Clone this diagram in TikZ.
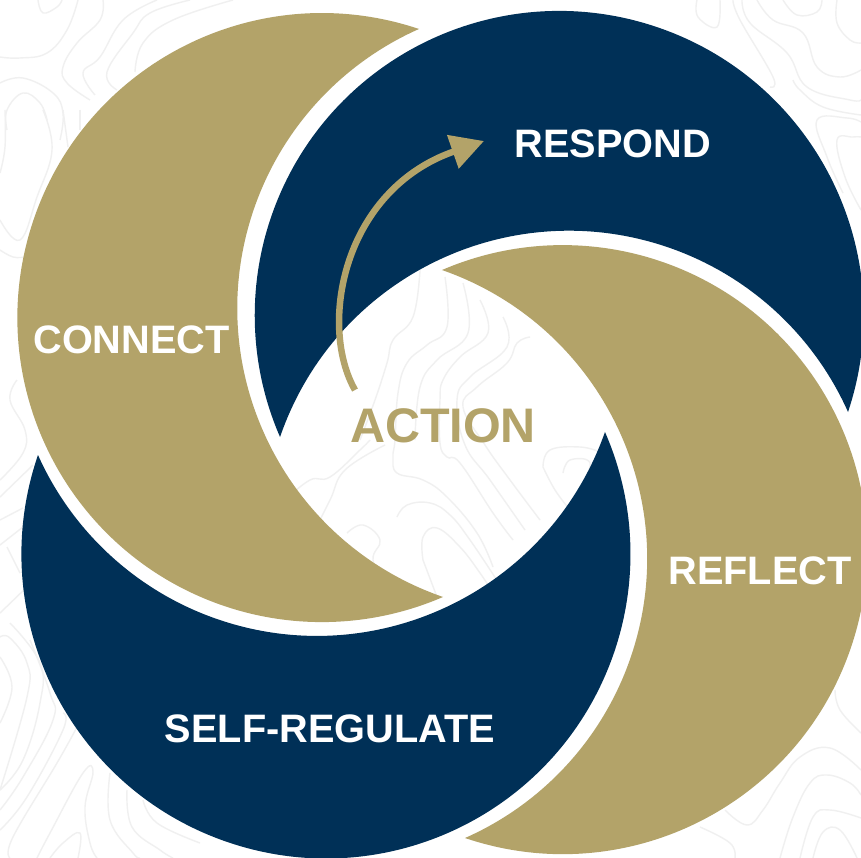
\documentclass[tikz,border=0pt]{standalone}
\usepackage{fontspec}
\setmainfont{Liberation Sans}
\usetikzlibrary{arrows.meta}
\definecolor{tgold}{HTML}{B3A369}
\definecolor{tnavy}{HTML}{003057}
\definecolor{tcontour}{HTML}{F0F0F0}
\tikzset{
  label on/.style={inner sep=0pt,font=\bfseries\fontsize{39.7}{42}\selectfont,text=white},
  contour/.style={draw=tcontour,line width=1.4pt},
}
\newcommand\crescent[7]{%
  \pgfmathsetmacro\csDx{#4-#2}%
  \pgfmathsetmacro\csDy{#5-#3}%
  \pgfmathsetmacro\csC{veclen(\csDx,\csDy)}%
  \pgfmathsetmacro\csNx{-\csDy/\csC}%
  \pgfmathsetmacro\csNy{\csDx/\csC}%
  \pgfmathsetmacro\csAo{asin(\csC/2/#6)}%
  \pgfmathsetmacro\csAi{asin(\csC/2/#7)}%
  \pgfmathsetmacro\csDo{#6*cos(\csAo)}%
  \pgfmathsetmacro\csDi{#7*cos(\csAi)}%
  \pgfmathsetmacro\csCox{(#2+#4)/2+\csNx*\csDo}%
  \pgfmathsetmacro\csCoy{(#3+#5)/2+\csNy*\csDo}%
  \pgfmathsetmacro\csCix{(#2+#4)/2-\csNx*\csDi}%
  \pgfmathsetmacro\csCiy{(#3+#5)/2-\csNy*\csDi}%
  \pgfmathsetmacro\csSo{atan2(#3-\csCoy,#2-\csCox)}%
  \pgfmathsetmacro\csSi{atan2(#5-\csCiy,#4-\csCix)}%
  \pgfmathsetmacro\csWo{-(360-2*\csAo)}%
  \pgfmathsetmacro\csWi{2*\csAi}%
  \fill[#1] (#2,#3) arc[start angle=\csSo,delta angle=\csWo,radius=#6pt]
    arc[start angle=\csSi,delta angle=\csWi,radius=#7pt] -- cycle;%
}
\newcommand\contourline[1]{\draw[contour] plot[smooth,tension=.7] coordinates {#1};}
\begin{document}
\begin{tikzpicture}[x=1pt,y=1pt,yscale=-1]
\useasboundingbox (0,0) rectangle (861,858);
\clip (0,0) rectangle (861,858);
\fill[white] (0,0) rectangle (861,858);
% background contours
\contourline{(420,270)(413,317)(393,340)(387,363)(375,400)(360,440)}
\contourline{(445,277)(447,327)(427,345)(407,363)(398,393)(395,440)(393,457)(397,473)(423,480)(447,497)(477,533)(493,567)}
\contourline{(463,283)(468,333)(437,360)(420,387)(415,440)}
\contourline{(480,300)(488,333)(460,357)(443,380)(440,400)(440,443)(447,457)(460,463)(493,513)(513,540)}
\contourline{(503,317)(507,347)(470,377)(457,400)(465,445)(490,480)(525,530)}
\contourline{(530,337)(517,343)(507,363)(477,387)(463,407)(485,445)(510,480)(540,520)}
\contourline{(423,560)(423,537)(437,528)(460,547)(480,573)(493,593)}
\contourline{(423,560)(437,597)}
\contourline{(397,517)(407,505)(430,503)(450,515)(470,540)(500,585)}
\contourline{(285,500)(310,480)(330,477)(360,450)(370,440)}
\contourline{(347,533)(363,525)(380,540)(373,560)(385,590)}
\contourline{(310,540)(330,500)(345,470)(385,445)}
\contourline{(543,467)(550,450)(580,447)(600,452)}
\contourline{(543,467)(555,490)(570,510)}
\contourline{(563,473)(570,460)(590,463)(580,490)}
\contourline{(0,57)(20,58)(47,53)(67,30)(78,0)}
\contourline{(38,0)(43,13)(57,7)(62,0)}
\contourline{(0,83)(23,78)(53,93)(63,113)(60,140)}
\contourline{(7,130)(7,110)(23,93)(40,103)(47,120)}
\contourline{(103,0)(100,20)(77,43)(63,67)(67,83)(90,100)}
\contourline{(157,0)(123,20)(100,57)(83,73)(95,95)}
\contourline{(190,0)(150,13)(133,33)(107,72)(117,90)}
\contourline{(233,0)(173,20)(143,43)(135,72)}
\contourline{(697,0)(698,17)(717,27)(720,0)}
\contourline{(733,0)(740,20)(773,77)(770,87)}
\contourline{(742,0)(750,23)(787,53)(807,87)(850,100)(861,100)}
\contourline{(757,0)(773,20)(803,33)(817,67)(840,77)(861,70)}
\contourline{(783,0)(797,15)(817,12)(822,0)}
\contourline{(837,0)(837,23)(850,40)(861,43)}
\contourline{(793,80)(800,90)(823,107)(861,115)}
\contourline{(843,193)(827,157)(817,120)(847,118)(861,122)}
\contourline{(861,210)(845,177)(837,140)(853,137)(861,137)}
\contourline{(0,637)(10,638)(27,663)(27,697)(0,790)}
\contourline{(0,657)(12,687)(0,723)}
\contourline{(10,623)(40,663)(40,703)(23,760)(0,790)}
\contourline{(30,640)(50,693)(53,720)(23,777)(0,810)}
\contourline{(63,713)(63,730)(27,797)(0,830)}
\contourline{(77,727)(57,763)(13,837)(10,858)}
\contourline{(37,858)(50,833)(83,773)(93,772)(85,807)(90,843)(97,858)}
\contourline{(50,858)(63,843)(80,833)(78,858)}
\contourline{(110,773)(110,820)(133,853)(140,858)}
\contourline{(127,790)(132,827)(160,850)(173,858)}
\contourline{(143,800)(157,823)(200,843)}
\contourline{(835,690)(840,710)(861,733)}
\contourline{(725,810)(747,825)(763,810)(780,783)(800,757)(830,748)(861,770)}
\contourline{(780,858)(793,817)(810,783)(827,775)(850,783)(861,795)}
\contourline{(800,858)(813,817)(830,810)(861,818)}
\contourline{(813,858)(823,832)(840,830)(857,858)}
\contourline{(700,827)(730,843)(735,858)}
\contourline{(5,110)(5,147)(0,173)}
\contourline{(43,110)(52,150)(37,197)(20,240)(0,220)}
\contourline{(63,110)(68,147)}
\contourline{(80,110)(80,130)}
\contourline{(0,250)(13,257)(25,257)}
\contourline{(17,380)(10,400)(25,430)(23,453)(0,480)}
\contourline{(0,497)(33,465)}
\contourline{(0,520)(23,508)}
\contourline{(0,545)(23,527)}
\contourline{(7,547)(20,573)}
\contourline{(0,613)(27,587)}
% crescents
\crescent{tgold}{419}{29}{443}{597}{304.5}{305.5}
\crescent{tnavy}{848}{412}{280}{437}{304.5}{305.5}
\crescent{tgold}{465}{838}{442}{270}{304.5}{305.5}
\crescent{tnavy}{38}{455}{605}{432}{304.5}{305.5}
% labels
\node[label on] (connect) at (131.5,340) {CONNECT};
\node[label on] (respond) at (613,144) {RESPOND};
\node[label on] (reflect) at (760,571) {REFLECT};
\node[label on] (selfreg) at (330,729) {SELF-REGULATE};
\node[inner sep=0pt,font=\bfseries\fontsize{48.5}{50}\selectfont,text=tgold] (action) at (443,426) {ACTION};
% arrow
\coordinate (arrowstart) at (355,390);
\coordinate (arrowend) at (484,141);
\draw[tgold,line width=6.5pt,-{Triangle[length=33pt,width=34pt]}]
  (arrowstart) .. controls (318,325) and (343,190) .. (arrowend);
\end{tikzpicture}
\end{document}
